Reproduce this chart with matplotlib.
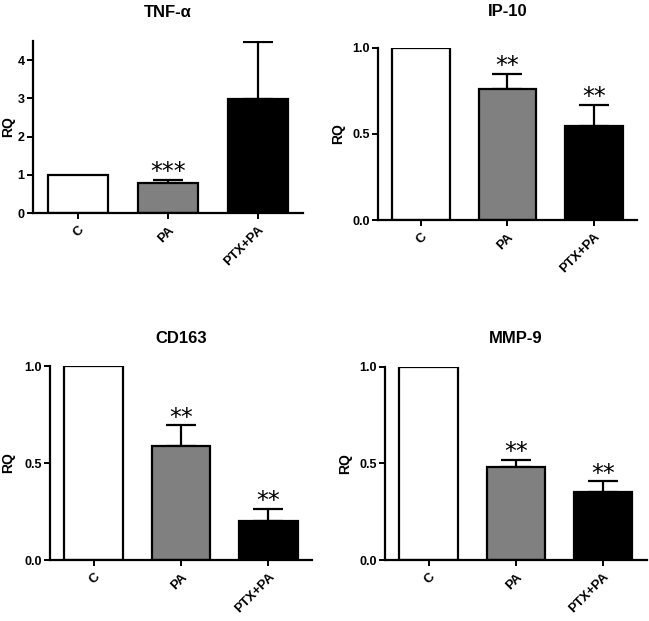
import numpy as np
import matplotlib
matplotlib.use('Agg')
import matplotlib.pyplot as plt

plt.rcParams['font.family'] = ['Liberation Sans', 'DejaVu Sans']
plt.rcParams['font.weight'] = 'bold'

groups = ['C', 'PA', 'PTX+PA']
bar_colors = ['white', '#808080', 'black']

# mean RQ values and upper error for each marker
tnf_vals = [1.0, 0.79, 2.97]
tnf_err = [0.0, 0.07, 1.50]
tnf_stars = ['', '***', '']

ip10_vals = [1.0, 0.76, 0.545]
ip10_err = [0.0, 0.087, 0.122]
ip10_stars = ['', '**', '**']

cd163_vals = [1.0, 0.588, 0.20]
cd163_err = [0.0, 0.106, 0.064]
cd163_stars = ['', '**', '**']

mmp9_vals = [1.0, 0.483, 0.352]
mmp9_err = [0.0, 0.034, 0.055]
mmp9_stars = ['', '**', '**']

panels = [
    ('TNF-α', tnf_vals, tnf_err, tnf_stars, [0, 1, 2, 3, 4], ['0', '1', '2', '3', '4'], 4.5,
     [0.0508, 0.657, 0.416, 0.277], 17, -0.065),
    ('IP-10', ip10_vals, ip10_err, ip10_stars, [0, 0.5, 1.0], ['0.0', '0.5', '1.0'], 1.0,
     [0.5824, 0.6457, 0.399, 0.2775], 23, -0.127),
    ('CD163', cd163_vals, cd163_err, cd163_stars, [0, 0.5, 1.0], ['0.0', '0.5', '1.0'], 1.0,
     [0.077, 0.0982, 0.4037, 0.3124], 16.5, -0.134),
    ('MMP-9', mmp9_vals, mmp9_err, mmp9_stars, [0, 0.5, 1.0], ['0.0', '0.5', '1.0'], 1.0,
     [0.593, 0.0982, 0.4037, 0.3113], 17, -0.126),
]

fig = plt.figure(figsize=(6.49, 6.21), dpi=100)

for title, vals, err, stars, yt, ytl, ytop, pos, tpad, ylx in panels:
    ax = fig.add_axes(pos)
    x = np.arange(len(groups))
    ax.bar(x, vals, width=0.67, color=bar_colors, edgecolor='black', linewidth=1.6, zorder=2)
    for i in range(1, len(groups)):
        ax.errorbar(x[i], vals[i], yerr=[[0], [err[i]]], fmt='none', ecolor='black',
                    elinewidth=1.6, capsize=11, capthick=1.6, zorder=1)
        if stars[i]:
            ax.annotate(stars[i], (x[i], vals[i] + err[i]), xytext=(0, 0.5),
                        textcoords='offset points', ha='center', va='baseline',
                        fontsize=17, family='DejaVu Sans', fontweight='normal')
    ax.set_xlim(-0.5, 2.5)
    ax.set_ylim(0, ytop)
    ax.set_yticks(yt)
    ax.set_yticklabels(ytl, fontsize=9, fontweight='bold')
    ax.set_xticks(x)
    ax.set_xticklabels(groups, rotation=45, ha='right', rotation_mode='anchor',
                       fontsize=9.5, fontweight='bold')
    ax.spines['top'].set_visible(False)
    ax.spines['right'].set_visible(False)
    ax.spines['left'].set_linewidth(1.6)
    ax.spines['bottom'].set_linewidth(1.6)
    ax.tick_params(axis='both', width=1.4, length=4, pad=2)
    ax.tick_params(axis='x', pad=4)
    ax.set_ylabel('RQ', fontsize=10, fontweight='bold')
    ax.yaxis.set_label_coords(ylx, 0.5)
    ax.set_title(title, fontsize=12, fontweight='bold', pad=tpad)

fig.savefig('out.png', dpi=100)
